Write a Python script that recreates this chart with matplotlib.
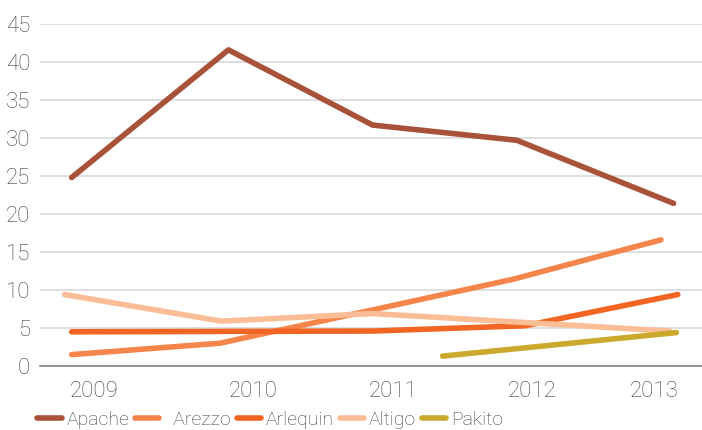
import matplotlib
matplotlib.use("Agg")
import matplotlib.pyplot as plt

# x positions are read off the picture in fractional years (points are not on the year ticks)
years = ["2009", "2010", "2011", "2012", "2013"]
year_pos = [2009.0, 2010.14, 2011.14, 2012.13, 2013.0]

apache_x = [2008.84, 2009.96, 2010.99, 2012.02, 2013.14]
apache_y = [24.8, 41.6, 31.7, 29.7, 21.4]

arezzo_x = [2008.84, 2009.9, 2011.99, 2013.05]
arezzo_y = [1.5, 3.0, 11.4, 16.6]

arlequin_x = [2008.84, 2010.99, 2012.08, 2013.17]
arlequin_y = [4.5, 4.6, 5.3, 9.4]

altigo_x = [2008.79, 2009.91, 2010.99, 2013.11]
altigo_y = [9.4, 5.9, 6.9, 4.6]

pakito_x = [2011.49, 2013.16]
pakito_y = [1.3, 4.4]

series = [
    ("Apache", apache_x, apache_y, "#A8523A"),
    ("  Arezzo", arezzo_x, arezzo_y, "#F5854A"),
    ("Arlequin", arlequin_x, arlequin_y, "#F26522"),
    ("Altigo", altigo_x, altigo_y, "#FBBD96"),
    ("Pakito", pakito_x, pakito_y, "#CBA92C"),
]

plt.rcParams["font.family"] = ["Roboto", "DejaVu Sans"]
plt.rcParams["font.weight"] = "light"

fig = plt.figure(figsize=(7.02, 4.30), dpi=100)
ax = fig.add_axes([40 / 702, 64 / 430, 662 / 702, 342 / 430])

for name, xs, ys, col in series:
    ax.plot(xs, ys, color=col, lw=4, solid_capstyle="round", label=name)

ax.set_ylim(0, 45)
ax.set_yticks(range(0, 46, 5))
ax.set_xlim(2008.614, 2013.343)
ax.set_xticks(year_pos)
ax.set_xticklabels(years)
ax.grid(axis="y", color="#D9D9D9", lw=1.2)
ax.set_axisbelow(True)
for s in ["top", "right", "left"]:
    ax.spines[s].set_visible(False)
ax.spines["bottom"].set_color("#808080")
ax.spines["bottom"].set_linewidth(1.2)
ax.tick_params(axis="both", length=0, labelsize=16, labelcolor="#404040")
ax.tick_params(axis="x", pad=11)
ax.tick_params(axis="y", pad=7)

fig.legend(loc="center left", bbox_to_anchor=(0.053, 0.024), ncol=5, frameon=False,
           fontsize=14, labelcolor="#404040", handlelength=1.25, handletextpad=0.25,
           columnspacing=0.3, borderaxespad=0, borderpad=0)

fig.savefig("out.png", dpi=100)
